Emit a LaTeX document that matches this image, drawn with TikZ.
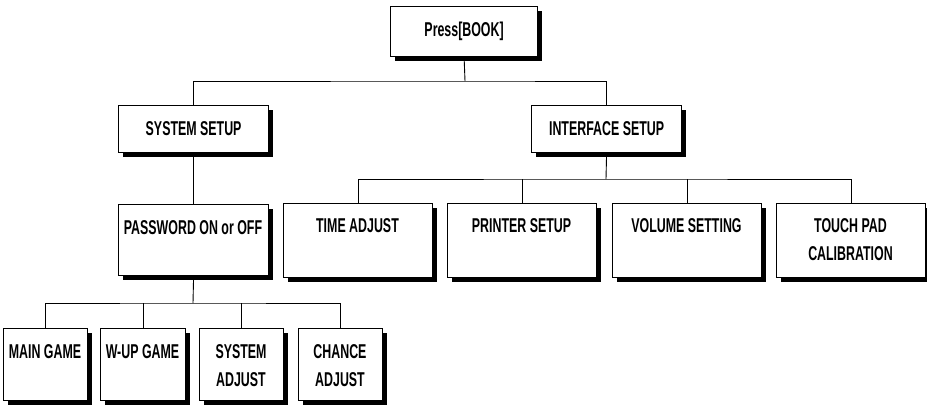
\documentclass[tikz,border=0pt]{standalone}
\usepackage{fontspec}
\setmainfont{Liberation Sans}[FakeStretch=0.62]
\usetikzlibrary{shadows}
\tikzset{
  box/.style={draw=black, line width=1.2bp, fill=white, anchor=north west, inner sep=0pt,
    drop shadow={shadow xshift=4.5bp, shadow yshift=-4.5bp, fill=black, opacity=1}},
  txt/.style={font=\fontsize{20bp}{28bp}\selectfont\bfseries, align=center, inner sep=0pt},
  conn/.style={draw=black, line width=0.9bp}
}
\begin{document}
\begin{tikzpicture}[x=1bp,y=-1bp]
\useasboundingbox (0,0) rectangle (927,406);
% boxes
\node[box, minimum width=147bp, minimum height=50bp] (top) at (390,6) {};
\node[box, minimum width=150bp, minimum height=47bp] (ss) at (118,105) {};
\node[box, minimum width=150bp, minimum height=47bp] (is) at (531,105) {};
\node[box, minimum width=150bp, minimum height=71bp] (pw) at (118,204) {};
\node[box, minimum width=149bp, minimum height=74bp] (ta) at (283,203) {};
\node[box, minimum width=149bp, minimum height=74bp] (ps) at (447,203) {};
\node[box, minimum width=149bp, minimum height=74bp] (vs) at (612,203) {};
\node[box, minimum width=149bp, minimum height=74bp] (tp) at (776,203) {};
\node[box, minimum width=84bp, minimum height=72bp] (mg) at (3,328) {};
\node[box, minimum width=85bp, minimum height=72bp] (wg) at (100,328) {};
\node[box, minimum width=84bp, minimum height=72bp] (sa) at (199,328) {};
\node[box, minimum width=84bp, minimum height=72bp] (ca) at (298,328) {};
% texts
\node[txt] (topt) at (top.center) {Press[BOOK]};
\node[txt] (sst) at (ss.center) {SYSTEM SETUP};
\node[txt] (ist) at (is.center) {INTERFACE SETUP};
\node[txt, anchor=center] (pwt) at (193,228) {PASSWORD ON or OFF};
\node[txt, anchor=center] (tat) at (357.5,226) {TIME ADJUST};
\node[txt, anchor=center] (pst) at (521.5,226) {PRINTER SETUP};
\node[txt, anchor=center] (vst) at (686.5,226) {VOLUME SETTING};
\node[txt, anchor=north] (tpt) at (850.5,218) {TOUCH PAD\\CALIBRATION};
\node[txt, anchor=center] (mgt) at (45,352) {MAIN GAME};
\node[txt, anchor=center] (wgt) at (142.5,352) {W-UP GAME};
\node[txt, anchor=north] (sat) at (241,344) {SYSTEM\\ADJUST};
\node[txt, anchor=north] (cat) at (340,344) {CHANCE\\ADJUST};
% connectors
\coordinate (j1) at (465,81);
\coordinate (j2) at (606,179);
\coordinate (j3) at (193,303);
\draw[conn] (top.south) -- (j1);
\draw[conn] (ss.north) |- (j1) -| (is.north);
\draw[conn] (is.south) -- (j2);
\draw[conn] (ta.north) |- (j2) -| (tp.north);
\draw[conn] (ps.north) -- (ps.north |- j2);
\draw[conn] (vs.north) -- (vs.north |- j2);
\draw[conn] (ss.south) -- (pw.north);
\draw[conn] (pw.south) -- (j3);
\draw[conn] (mg.north) |- (j3) -| (ca.north);
\draw[conn] (wg.north) -- (wg.north |- j3);
\draw[conn] (sa.north) -- (sa.north |- j3);
\end{tikzpicture}
\end{document}
